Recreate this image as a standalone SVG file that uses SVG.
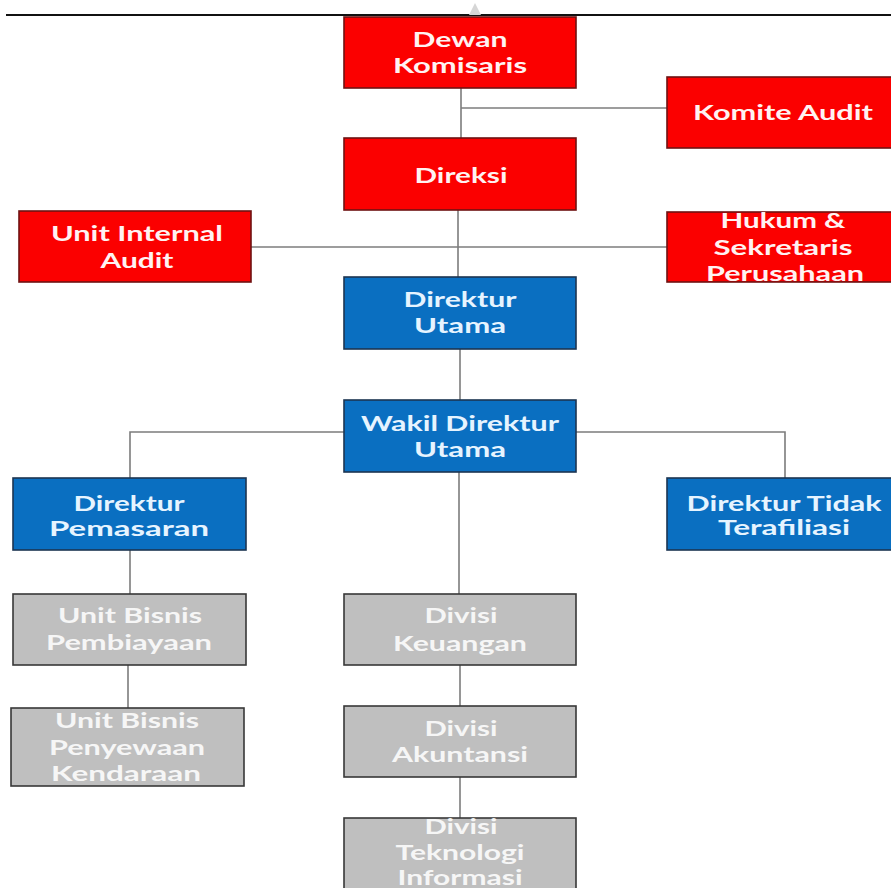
<svg xmlns="http://www.w3.org/2000/svg" width="891" height="888" viewBox="0 0 891 888">
  <style>
    .box { stroke-width: 1.6; }
    .red { fill: #fb0000; stroke: #6e1212; }
    .blue { fill: #0a6fc1; stroke: #1c3552; }
    .grey { fill: #bfbfbf; stroke: #383838; }
    .lbl { font-family: Lato, "Open Sans", "DejaVu Sans", sans-serif; font-weight: 700; font-size: 21px; text-anchor: middle; }
    .red-t { fill: #fff2f2; }
    .blue-t { fill: #e6f4ff; }
    .grey-t { fill: #f6f6f6; }
    .link { stroke: #7c7c7c; stroke-width: 1.6; fill: none; }
  </style>

  <rect width="891" height="888" fill="#ffffff"/>

  <!-- page rule and small mark at the top -->
  <line x1="6" y1="15" x2="891" y2="15" stroke="#111111" stroke-width="1.8"/>
  <polygon points="469,15 475,3 481,15" fill="#d6d6d6"/>

  <!-- connectors -->
  <g id="connectors" class="link">
    <line x1="461" y1="88" x2="461" y2="138"/>
    <line x1="461" y1="108" x2="667" y2="108"/>
    <line x1="458" y1="210" x2="458" y2="277"/>
    <line x1="251" y1="247" x2="667" y2="247"/>
    <line x1="460" y1="349" x2="460" y2="400"/>
    <polyline points="130,478 130,432 785,432 785,478"/>
    <line x1="459" y1="472" x2="459" y2="594"/>
    <line x1="130" y1="550" x2="130" y2="594"/>
    <line x1="128" y1="665" x2="128" y2="708"/>
    <line x1="460" y1="665" x2="460" y2="706"/>
    <line x1="460" y1="777" x2="460" y2="818"/>
  </g>

  <!-- governance -->
  <g id="dewan-komisaris">
    <rect class="box red" x="344" y="17" width="232" height="71"/>
    <text class="lbl red-t" x="460" y="47" textLength="95" lengthAdjust="spacingAndGlyphs">Dewan</text>
    <text class="lbl red-t" x="460" y="73" textLength="134" lengthAdjust="spacingAndGlyphs">Komisaris</text>
  </g>

  <g id="komite-audit">
    <rect class="box red" x="667" y="77" width="226" height="71"/>
    <text class="lbl red-t" x="783" y="120" textLength="180" lengthAdjust="spacingAndGlyphs">Komite Audit</text>
  </g>

  <g id="direksi">
    <rect class="box red" x="344" y="138" width="232" height="72"/>
    <text class="lbl red-t" x="461" y="183" textLength="93" lengthAdjust="spacingAndGlyphs">Direksi</text>
  </g>

  <g id="unit-internal-audit">
    <rect class="box red" x="19" y="211" width="232" height="71"/>
    <text class="lbl red-t" x="137" y="241" textLength="172" lengthAdjust="spacingAndGlyphs">Unit Internal</text>
    <text class="lbl red-t" x="137" y="268" textLength="73" lengthAdjust="spacingAndGlyphs">Audit</text>
  </g>

  <g id="hukum-sekretaris">
    <rect class="box red" x="667" y="212" width="226" height="70"/>
    <text class="lbl red-t" x="783" y="228" textLength="125" lengthAdjust="spacingAndGlyphs">Hukum &amp;</text>
    <text class="lbl red-t" x="783" y="255" textLength="139" lengthAdjust="spacingAndGlyphs">Sekretaris</text>
    <text class="lbl red-t" x="785" y="281" textLength="158" lengthAdjust="spacingAndGlyphs">Perusahaan</text>
  </g>

  <!-- board of directors -->
  <g id="direktur-utama">
    <rect class="box blue" x="344" y="277" width="232" height="72"/>
    <text class="lbl blue-t" x="460" y="307" textLength="113" lengthAdjust="spacingAndGlyphs">Direktur</text>
    <text class="lbl blue-t" x="460" y="333" textLength="92" lengthAdjust="spacingAndGlyphs">Utama</text>
  </g>

  <g id="wakil-direktur-utama">
    <rect class="box blue" x="344" y="400" width="232" height="72"/>
    <text class="lbl blue-t" x="460" y="431" textLength="198" lengthAdjust="spacingAndGlyphs">Wakil Direktur</text>
    <text class="lbl blue-t" x="460" y="457" textLength="92" lengthAdjust="spacingAndGlyphs">Utama</text>
  </g>

  <g id="direktur-pemasaran">
    <rect class="box blue" x="13" y="478" width="233" height="72"/>
    <text class="lbl blue-t" x="129" y="511" textLength="111" lengthAdjust="spacingAndGlyphs">Direktur</text>
    <text class="lbl blue-t" x="129" y="536" textLength="160" lengthAdjust="spacingAndGlyphs">Pemasaran</text>
  </g>

  <g id="direktur-tidak-terafiliasi">
    <rect class="box blue" x="667" y="478" width="226" height="72"/>
    <text class="lbl blue-t" x="784" y="511" textLength="195" lengthAdjust="spacingAndGlyphs">Direktur Tidak</text>
    <text class="lbl blue-t" x="784" y="535" textLength="132" lengthAdjust="spacingAndGlyphs">Terafiliasi</text>
  </g>

  <!-- business units -->
  <g id="unit-bisnis-pembiayaan">
    <rect class="box grey" x="13" y="594" width="233" height="71"/>
    <text class="lbl grey-t" x="130" y="623" textLength="144" lengthAdjust="spacingAndGlyphs">Unit Bisnis</text>
    <text class="lbl grey-t" x="129" y="650" textLength="166" lengthAdjust="spacingAndGlyphs">Pembiayaan</text>
  </g>

  <g id="unit-bisnis-penyewaan">
    <rect class="box grey" x="11" y="708" width="233" height="78"/>
    <text class="lbl grey-t" x="127" y="728" textLength="144" lengthAdjust="spacingAndGlyphs">Unit Bisnis</text>
    <text class="lbl grey-t" x="127" y="755" textLength="156" lengthAdjust="spacingAndGlyphs">Penyewaan</text>
    <text class="lbl grey-t" x="126" y="781" textLength="150" lengthAdjust="spacingAndGlyphs">Kendaraan</text>
  </g>

  <!-- divisions -->
  <g id="divisi-keuangan">
    <rect class="box grey" x="344" y="594" width="232" height="71"/>
    <text class="lbl grey-t" x="461" y="623" textLength="73" lengthAdjust="spacingAndGlyphs">Divisi</text>
    <text class="lbl grey-t" x="460" y="651" textLength="134" lengthAdjust="spacingAndGlyphs">Keuangan</text>
  </g>

  <g id="divisi-akuntansi">
    <rect class="box grey" x="344" y="706" width="232" height="71"/>
    <text class="lbl grey-t" x="461" y="736" textLength="73" lengthAdjust="spacingAndGlyphs">Divisi</text>
    <text class="lbl grey-t" x="460" y="762" textLength="136" lengthAdjust="spacingAndGlyphs">Akuntansi</text>
  </g>

  <g id="divisi-teknologi-informasi">
    <rect class="box grey" x="344" y="818" width="232" height="80"/>
    <text class="lbl grey-t" x="461" y="834" textLength="73" lengthAdjust="spacingAndGlyphs">Divisi</text>
    <text class="lbl grey-t" x="460" y="860" textLength="129" lengthAdjust="spacingAndGlyphs">Teknologi</text>
    <text class="lbl grey-t" x="460" y="885" textLength="125" lengthAdjust="spacingAndGlyphs">Informasi</text>
  </g>
</svg>
